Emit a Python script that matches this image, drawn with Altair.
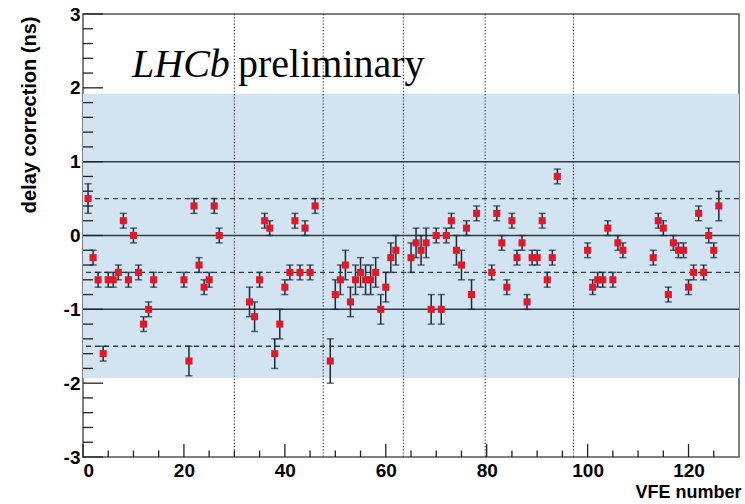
import altair as alt
import pandas as pd

# ---- data ----
vfe = [1, 2, 3, 4, 5, 6, 7, 8, 9, 10, 11, 12, 13, 14,
       20, 21, 22, 23, 24, 25, 26, 27,
       33, 34, 35, 36, 37, 38, 39, 40, 41, 42, 43, 44, 45, 46,
       49, 50, 51, 52, 53, 54, 55, 56, 57, 58, 59, 60, 61, 62,
       65, 66, 67, 68, 69, 70, 71, 72, 73, 74, 75, 76, 77, 78,
       81, 82, 83, 84, 85, 86, 87, 88, 89, 90, 91, 92, 93, 94,
       100, 101, 102, 103, 104, 105, 106, 107,
       113, 114, 115, 116, 117, 118, 119, 120, 121, 122, 123, 124, 125, 126]
delay = [0.5, -0.3, -0.6, -1.6, -0.6, -0.6, -0.5, 0.2, -0.6, 0.0, -0.5, -1.2, -1.0, -0.6,
         -0.6, -1.7, 0.4, -0.4, -0.7, -0.6, 0.4, 0.0,
         -0.9, -1.1, -0.6, 0.2, 0.1, -1.6, -1.2, -0.7, -0.5, 0.2, -0.5, 0.1, -0.5, 0.4,
         -1.7, -0.8, -0.6, -0.4, -0.9, -0.6, -0.5, -0.6, -0.6, -0.5, -1.0, -0.7, -0.3, -0.2,
         -0.3, -0.1, -0.2, -0.1, -1.0, 0.0, -1.0, 0.0, 0.2, -0.2, -0.4, 0.1, -0.8, 0.3,
         -0.5, 0.3, -0.1, -0.7, 0.2, -0.3, -0.1, -0.9, -0.3, -0.3, 0.2, -0.6, -0.3, 0.8,
         -0.2, -0.7, -0.6, -0.6, 0.1, -0.6, -0.1, -0.2,
         -0.3, 0.2, 0.1, -0.8, -0.1, -0.2, -0.2, -0.7, -0.5, 0.3, -0.5, 0.0, -0.2, 0.4]
err = [0.2, 0.1, 0.1, 0.1, 0.1, 0.1, 0.1, 0.1, 0.1, 0.1, 0.1, 0.1, 0.1, 0.1,
       0.1, 0.2, 0.1, 0.1, 0.1, 0.1, 0.1, 0.1,
       0.2, 0.2, 0.1, 0.1, 0.1, 0.2, 0.2, 0.1, 0.1, 0.1, 0.1, 0.1, 0.1, 0.1,
       0.3, 0.2, 0.2, 0.2, 0.2, 0.2, 0.2, 0.2, 0.2, 0.2, 0.2, 0.2, 0.2, 0.2,
       0.2, 0.2, 0.2, 0.2, 0.2, 0.1, 0.2, 0.1, 0.1, 0.2, 0.2, 0.1, 0.2, 0.1,
       0.1, 0.1, 0.1, 0.1, 0.1, 0.1, 0.1, 0.1, 0.1, 0.1, 0.1, 0.1, 0.1, 0.1,
       0.1, 0.1, 0.1, 0.1, 0.1, 0.1, 0.1, 0.1,
       0.1, 0.1, 0.1, 0.1, 0.1, 0.1, 0.1, 0.1, 0.1, 0.1, 0.1, 0.1, 0.1, 0.2]

band_low, band_high = -1.93, 1.92
solid_lines = [-1, 0, 1]
dashed_lines = [-1.5, -0.5, 0.5]
group_lines = [30, 47.6, 63.5, 79.7, 97.2]
x_major = [0, 20, 40, 60, 80, 100, 120]
x_minor = [v for v in range(5, 130, 5) if v % 20 != 0]
y_major = [-3, -2, -1, 0, 1, 2, 3]
y_minor = [round(-3 + 0.2 * i, 1) for i in range(31) if abs((-3 + 0.2 * i) - round(-3 + 0.2 * i)) > 1e-6]

W, H = 656, 443
XMIN, XMAX = 0, 130
YMIN, YMAX = -3, 3

df = pd.DataFrame({"vfe": vfe, "delay": delay, "err": err})
df["lo"] = df["delay"] - df["err"]
df["hi"] = df["delay"] + df["err"]

xs = alt.Scale(domain=[XMIN, XMAX], nice=False, zero=False)
ys = alt.Scale(domain=[YMIN, YMAX], nice=False, zero=False)

LINE = "#2f3d4a"

band = alt.Chart(pd.DataFrame({"lo": [band_low], "hi": [band_high]})).mark_rect(
    color="#d2e3f1"
).encode(
    x=alt.value(0), x2=alt.value(W),
    y=alt.Y("lo:Q", scale=ys, axis=alt.Axis(
        values=y_major, labelExpr="toString(datum.value)", labelFont="Liberation Sans",
        labelFontWeight="bold", labelFontSize=19, labelColor="#000", labelPadding=3,
        ticks=False, domain=False, grid=False,
        title="delay correction (ns)", titleFont="Liberation Sans", titleFontWeight="bold",
        titleFontSize=20, titleColor="#000", titleAngle=-90, titleAlign="right",
        titleBaseline="alphabetic", titleX=-48, titleY=2)),
    y2="hi:Q",
)

solid = alt.Chart(pd.DataFrame({"v": solid_lines})).mark_rule(
    color=LINE, strokeWidth=1.5
).encode(y=alt.Y("v:Q", scale=ys))

dashed = alt.Chart(pd.DataFrame({"v": dashed_lines})).mark_rule(
    color=LINE, strokeWidth=1.4, strokeDash=[5, 4]
).encode(y=alt.Y("v:Q", scale=ys))

groups = alt.Chart(pd.DataFrame({"v": group_lines})).mark_rule(
    color="#333333", strokeWidth=1.2, strokeDash=[1.2, 2]
).encode(x=alt.X("v:Q", scale=xs, axis=alt.Axis(
    values=x_major, labelFont="Liberation Sans", labelFontWeight="bold",
    labelFontSize=19, labelColor="#000", labelPadding=4, ticks=False, domain=False,
    grid=False, title="VFE number", titleFont="Liberation Sans",
    titleFontWeight="bold", titleFontSize=18, titleColor="#000",
    titleAlign="right", titleBaseline="alphabetic", titleX=658, titleY=40)))

ytick_major = alt.Chart(pd.DataFrame({"v": y_major})).mark_rule(
    color="#222", strokeWidth=1.3
).encode(y=alt.Y("v:Q", scale=ys), x=alt.value(0), x2=alt.value(20))
ytick_minor = alt.Chart(pd.DataFrame({"v": y_minor})).mark_rule(
    color="#222", strokeWidth=1.3
).encode(y=alt.Y("v:Q", scale=ys), x=alt.value(0), x2=alt.value(10))
xtick_major = alt.Chart(pd.DataFrame({"v": x_major})).mark_rule(
    color="#222", strokeWidth=1.3
).encode(x=alt.X("v:Q", scale=xs), y=alt.value(H), y2=alt.value(H - 13))
xtick_minor = alt.Chart(pd.DataFrame({"v": x_minor})).mark_rule(
    color="#222", strokeWidth=1.3
).encode(x=alt.X("v:Q", scale=xs), y=alt.value(H), y2=alt.value(H - 6.5))

base = alt.Chart(df)
bars = base.mark_rule(color="#1c2a36", strokeWidth=1.5).encode(
    x=alt.X("vfe:Q", scale=xs), y=alt.Y("lo:Q", scale=ys), y2="hi:Q")
cap_lo = base.mark_tick(orient="horizontal", size=7, thickness=1.5, color="#1c2a36").encode(
    x=alt.X("vfe:Q", scale=xs), y=alt.Y("lo:Q", scale=ys))
cap_hi = base.mark_tick(orient="horizontal", size=7, thickness=1.5, color="#1c2a36").encode(
    x=alt.X("vfe:Q", scale=xs), y=alt.Y("hi:Q", scale=ys))
pts = base.mark_square(size=50, color="#dd1a2c", opacity=1).encode(
    x=alt.X("vfe:Q", scale=xs), y=alt.Y("delay:Q", scale=ys))

one = pd.DataFrame({"t": [0]})
lhcb = alt.Chart(one).mark_text(
    text="LHCb", font="Liberation Serif", fontSize=40, fontStyle="italic",
    align="left", baseline="alphabetic", color="#000"
).encode(x=alt.value(49), y=alt.value(63))
prelim = alt.Chart(one).mark_text(
    text="preliminary", font="Liberation Serif", fontSize=40,
    align="left", baseline="alphabetic", color="#000"
).encode(x=alt.value(155), y=alt.value(63))

chart = alt.layer(
    band, solid, dashed, groups, ytick_major, ytick_minor, xtick_major, xtick_minor,
    bars, cap_lo, cap_hi, pts, lhcb, prelim
).properties(
    width=W, height=H,
    autosize=alt.AutoSizeParams(type="none"),
    padding={"left": 83, "top": 14, "right": 6, "bottom": 47},
    background="white",
).configure_view(stroke="#555555", strokeWidth=1.5)

chart.save("out.html", embed_options={"renderer": "svg", "actions": False})
